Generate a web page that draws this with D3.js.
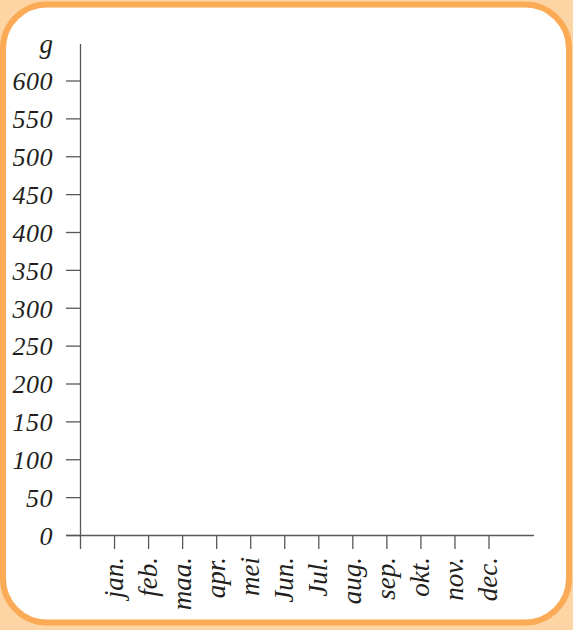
<!DOCTYPE html>
<html><head><meta charset="utf-8">
<script src="https://cdn.jsdelivr.net/npm/d3@7"></script>
<style>html,body{margin:0;padding:0;background:#fdd5a4;}svg{display:block;}</style>
</head><body>
<script>
const months = ["jan.","feb.","maa.","apr.","mei","Jun.","Jul.","aug.","sep.","okt.","nov.","dec."];
const yTicks = [0,50,100,150,200,250,300,350,400,450,500,550,600];
const yUnit = "g";

const W = 573, H = 630;
const svg = d3.select("body").append("svg").attr("width", W).attr("height", H);
svg.append("rect").attr("width", W).attr("height", H).attr("fill", "#fdd5a4");
svg.append("rect").attr("x", 3).attr("y", 4.5).attr("width", 566).attr("height", 618)
  .attr("rx", 44).attr("ry", 44).attr("fill", "#fff").attr("stroke", "#fbaa55").attr("stroke-width", 6);

const font = "'Liberation Serif', serif";
const x0 = 80.5, y0 = 535.5;
const y = d3.scaleLinear().domain([0, 600]).range([y0, 81]);
const x = d3.scaleLinear().domain([0, 12]).range([x0, 489]);
const axisCol = "#58585a", textCol = "#231f20";

// y axis
const gy = svg.append("g");
gy.append("line").attr("x1", x0).attr("x2", x0).attr("y1", 44).attr("y2", 549).attr("stroke", axisCol).attr("stroke-width", 1.3);
gy.selectAll("line.t").data(yTicks).enter().append("line").attr("class","t")
  .attr("x1", 66).attr("x2", x0).attr("y1", d => y(d)).attr("y2", d => y(d))
  .attr("stroke", axisCol).attr("stroke-width", 1.3);
gy.selectAll("text").data(yTicks).enter().append("text")
  .attr("x", 53).attr("y", d => y(d)).attr("dy", "0.36em")
  .attr("text-anchor", "end").attr("font-family", font).attr("font-style", "italic")
  .attr("font-size", 26).attr("letter-spacing", 0.5).attr("fill", textCol).text(d => d);
svg.append("text").attr("x", 53).attr("y", 53).attr("text-anchor", "end")
  .attr("font-family", font).attr("font-style", "italic").attr("font-size", 27)
  .attr("fill", textCol).text(yUnit);

// x axis
const gx = svg.append("g");
gx.append("line").attr("x1", 66).attr("x2", 534).attr("y1", y0).attr("y2", y0).attr("stroke", axisCol).attr("stroke-width", 1.3);
gx.selectAll("line.t").data(d3.range(1, 13)).enter().append("line").attr("class","t")
  .attr("x1", d => x(d)).attr("x2", d => x(d)).attr("y1", y0).attr("y2", 549)
  .attr("stroke", axisCol).attr("stroke-width", 1.3);
gx.selectAll("text").data(months).enter().append("text")
  .attr("transform", (d, i) => `translate(${x(i + 1)},557) rotate(-90)`)
  .attr("dy", "0.3em").attr("text-anchor", "end")
  .attr("font-family", font).attr("font-style", "italic").attr("font-size", 27)
  .attr("fill", textCol).text(d => d);
</script>
</body></html>
